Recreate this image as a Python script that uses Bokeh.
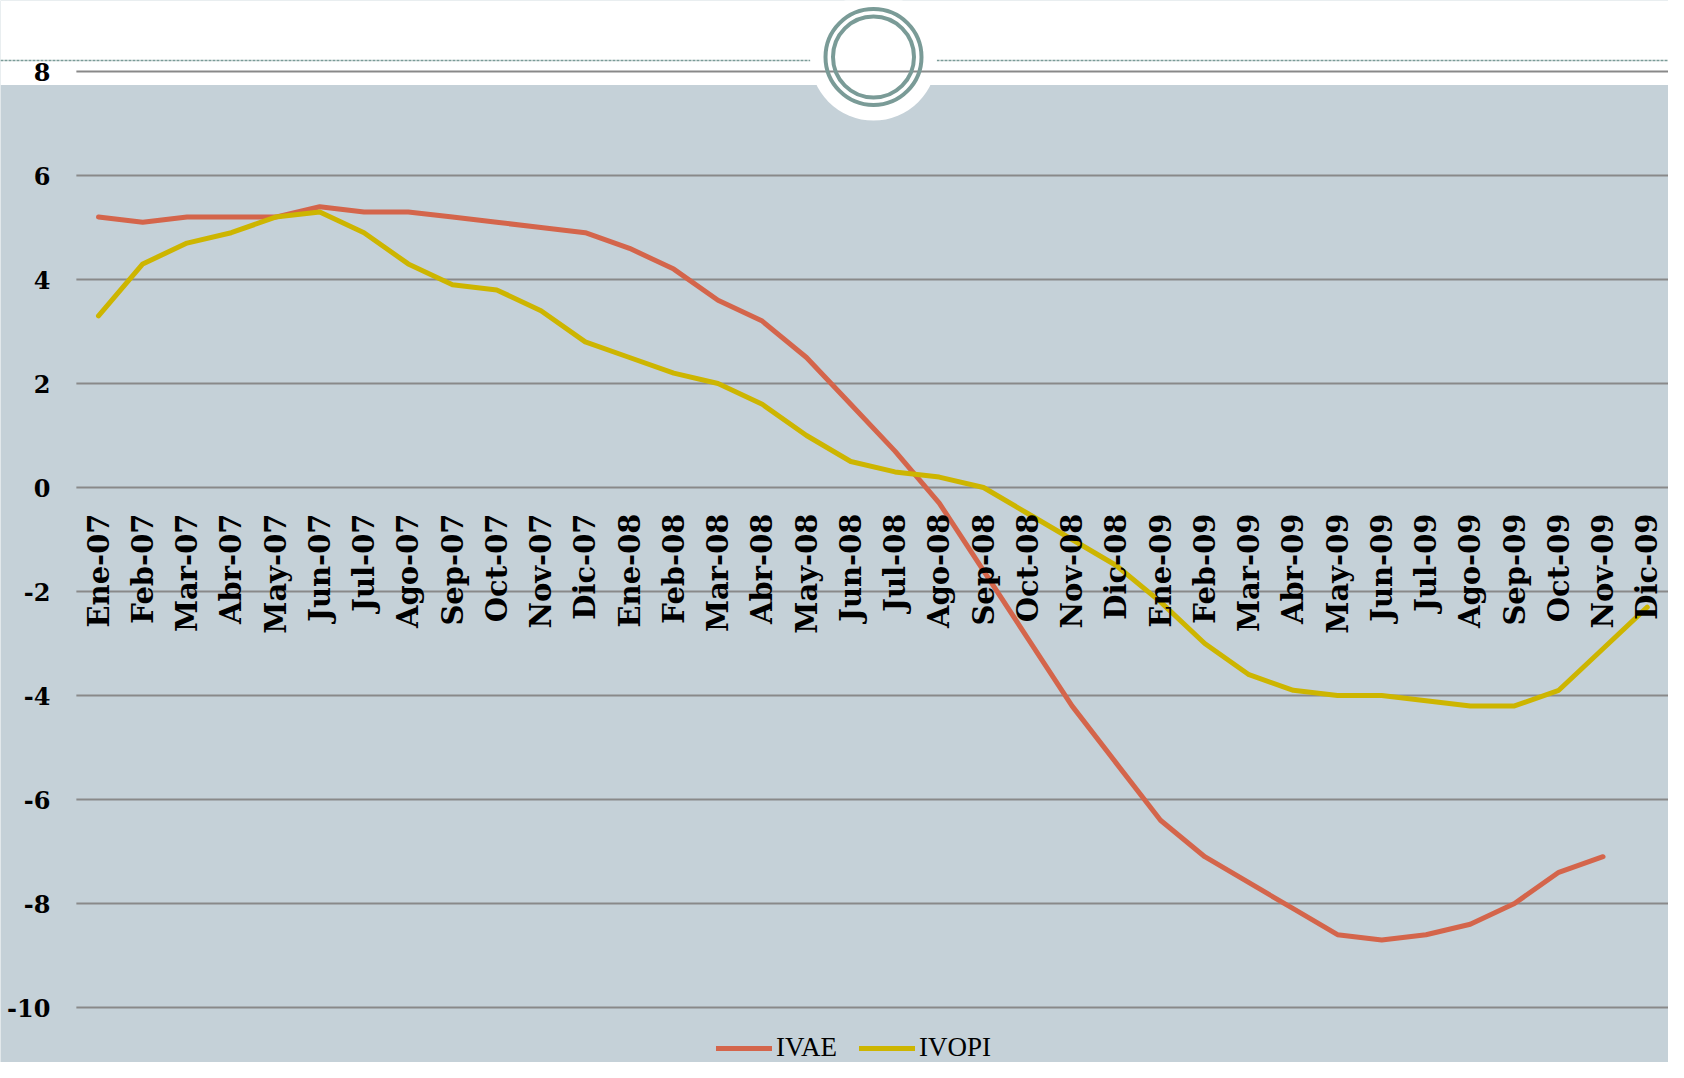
import math
from bokeh.plotting import figure
from bokeh.models import Range1d, FixedTicker, LinearAxis, Legend, LegendItem
from bokeh.embed import file_html
from bokeh.resources import INLINE

# ---------------- data ----------------
months = ["Ene-07", "Feb-07", "Mar-07", "Abr-07", "May-07", "Jun-07", "Jul-07", "Ago-07",
          "Sep-07", "Oct-07", "Nov-07", "Dic-07",
          "Ene-08", "Feb-08", "Mar-08", "Abr-08", "May-08", "Jun-08", "Jul-08", "Ago-08",
          "Sep-08", "Oct-08", "Nov-08", "Dic-08",
          "Ene-09", "Feb-09", "Mar-09", "Abr-09", "May-09", "Jun-09", "Jul-09", "Ago-09",
          "Sep-09", "Oct-09", "Nov-09", "Dic-09"]

ivae = [5.2, 5.1, 5.2, 5.2, 5.2, 5.4, 5.3, 5.3, 5.2, 5.1, 5.0, 4.9,
        4.6, 4.2, 3.6, 3.2, 2.5, 1.6, 0.7, -0.3, -1.6, -2.9, -4.2, -5.3,
        -6.4, -7.1, -7.6, -8.1, -8.6, -8.7, -8.6, -8.4, -8.0, -7.4, -7.1]

ivopi = [3.3, 4.3, 4.7, 4.9, 5.2, 5.3, 4.9, 4.3, 3.9, 3.8, 3.4, 2.8,
         2.5, 2.2, 2.0, 1.6, 1.0, 0.5, 0.3, 0.2, 0.0, -0.5, -1.0, -1.5,
         -2.2, -3.0, -3.6, -3.9, -4.0, -4.0, -4.1, -4.2, -4.2, -3.9, -3.1, -2.3]

y_ticks = [-10, -8, -6, -4, -2, 0, 2, 4, 6, 8]
y_tick_labels = ["-10", "-8", "-6", "-4", "-2", "0", "2", "4", "6", "8"]

series_names = ["IVAE", "IVOPI"]

# ---------------- styling / layout ----------------
BG = "#C5D1D8"
GRID = "#898989"
RING = "#7A9B97"
RED = "#D4654B"
YEL = "#CDB500"

W, H = 1668, 1062
PX_X = 44.25         # pixels per category
PX_Y = 52.0          # pixels per unit
LEFT = 98 - PX_X / 2  # screen x of the category axis start
TOP8 = 71.0          # screen y of the top gridline

x_start = -0.5 - LEFT / PX_X
x_end = x_start + W / PX_X
y_end = y_ticks[-1] + TOP8 / PX_Y
y_start = y_end - H / PX_Y


def sx(px):
    return x_start + px / PX_X


def sy(py):
    return y_end - py / PX_Y


p = figure(width=W, height=H, x_range=Range1d(x_start, x_end), y_range=Range1d(y_start, y_end),
           output_backend="svg", toolbar_location=None, min_border=0,
           x_axis_type=None, y_axis_type=None)
p.background_fill_color = BG
p.border_fill_color = BG
p.outline_line_color = None

# white header band
p.quad(left=[x_start], right=[x_end], bottom=[sy(84.5)], top=[y_end],
       fill_color="white", line_color=None)
# dashed header line
p.segment(x0=[x_start], x1=[x_end], y0=[sy(60)], y1=[sy(60)],
          line_color=RING, line_width=1.5, line_dash="3 1")
# white bowl under ring
cx, cy = sx(873), sy(56.5)
p.scatter([cx], [cy], marker="circle", size=127, fill_color="white", line_color=None)

# gridlines
p.segment(x0=[-0.5] * len(y_ticks), x1=[x_end] * len(y_ticks), y0=y_ticks, y1=y_ticks,
          line_color=GRID, line_width=2)

# rings
p.scatter([cx], [cy], marker="circle", size=96, fill_color=None, line_color=RING, line_width=4)
p.scatter([cx], [cy], marker="circle", size=81, fill_color=None, line_color=RING, line_width=4)

# data lines
r1 = p.line(x=list(range(len(ivae))), y=ivae, line_color=RED, line_width=5,
            line_cap="round", line_join="round")
r2 = p.line(x=list(range(len(ivopi))), y=ivopi, line_color=YEL, line_width=5,
            line_cap="round", line_join="round")

# axes
yaxis = LinearAxis(fixed_location=-0.5, ticker=FixedTicker(ticks=y_ticks),
                   major_label_overrides={t: l for t, l in zip(y_ticks, y_tick_labels)})
yaxis.axis_line_color = None
yaxis.major_tick_line_color = None
yaxis.minor_tick_line_color = None
yaxis.major_label_standoff = 20
yaxis.major_label_text_font = "DejaVu Serif"
yaxis.major_label_text_font_style = "bold"
yaxis.major_label_text_font_size = "24px"
yaxis.major_label_text_color = "black"
p.add_layout(yaxis, "left")

xaxis = LinearAxis(fixed_location=0, ticker=FixedTicker(ticks=list(range(len(months)))),
                   major_label_overrides={i: m for i, m in enumerate(months)},
                   major_label_orientation=math.pi / 2)
xaxis.axis_line_color = None
xaxis.major_tick_line_color = None
xaxis.minor_tick_line_color = None
xaxis.major_label_standoff = 20
xaxis.major_label_text_font = "DejaVu Serif"
xaxis.major_label_text_font_style = "bold"
xaxis.major_label_text_font_size = "29px"
xaxis.major_label_text_color = "black"
p.add_layout(xaxis, "below")

legend = Legend(items=[LegendItem(label=series_names[0], renderers=[r1]),
                       LegendItem(label=series_names[1], renderers=[r2])],
                location=(716, -1), orientation="horizontal")
legend.background_fill_alpha = 0
legend.border_line_color = None
legend.padding = 0
legend.margin = 0
legend.spacing = 22
legend.label_standoff = 4
legend.glyph_width = 56
legend.glyph_height = 16
legend.label_height = 16
legend.label_text_font = "Liberation Serif"
legend.label_text_font_size = "27px"
legend.label_text_color = "black"
p.add_layout(legend, "center")

open("out.html", "w").write(file_html(p, INLINE))
